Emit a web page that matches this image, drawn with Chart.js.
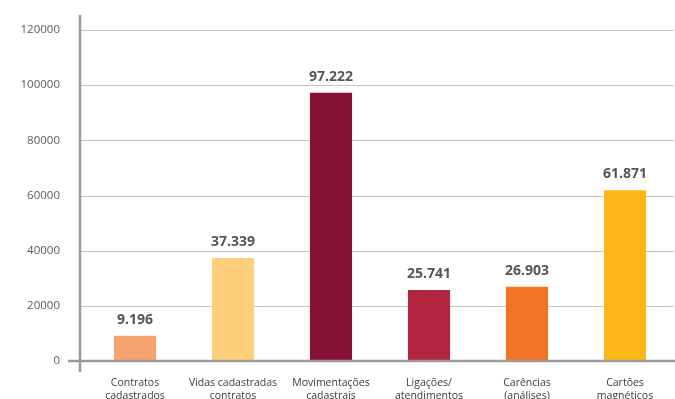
<!DOCTYPE html>
<html>
<head>
<meta charset="utf-8">
<script src="https://cdn.jsdelivr.net/npm/chart.js@4/dist/chart.umd.min.js"></script>
<style>
html,body{margin:0;padding:0;background:#fff;}
#wrap{width:675px;height:399px;}
</style>
</head>
<body>
<div id="wrap"><canvas id="c" width="675" height="399"></canvas></div>
<script>
const categories = [
  ["Contratos","cadastrados"],
  ["Vidas cadastradas","contratos"],
  ["Movimentações","cadastrais"],
  ["Ligações/","atendimentos"],
  ["Carências","(análises)"],
  ["Cartões","magnéticos"]
];
const values = [9196, 37339, 97222, 25741, 26903, 61871];
const barColors = ["#F6A36F","#FED07B","#861134","#B4253F","#F27323","#FBB718"];
const yTicks = [0, 20000, 40000, 60000, 80000, 100000, 120000];

function fmt(v){ return String(v).replace(/\B(?=(\d{3})+(?!\d))/g, "."); }

const axesPlugin = {
  id: 'axesPlugin',
  beforeDatasetsDraw(chart){
    const ctx = chart.ctx, y = chart.scales.y;
    ctx.save();
    ctx.strokeStyle = '#c4c4c4';
    ctx.lineWidth = 1;
    yTicks.forEach(t => {
      if (t === 0) return;
      const py = Math.round(y.getPixelForValue(t)) + 0.5;
      ctx.beginPath(); ctx.moveTo(80, py); ctx.lineTo(674, py); ctx.stroke();
    });
    ctx.restore();
  },
  afterDatasetsDraw(chart){
    const ctx = chart.ctx, y = chart.scales.y;
    ctx.save();
    ctx.strokeStyle = '#9a9a9a';
    ctx.lineWidth = 2.5;
    const y0 = y.getPixelForValue(0);
    ctx.beginPath(); ctx.moveTo(68, y0); ctx.lineTo(675, y0); ctx.stroke();
    ctx.beginPath(); ctx.moveTo(80, 15); ctx.lineTo(80, y0 + 11); ctx.stroke();
    const meta = chart.getDatasetMeta(0);
    ctx.fillStyle = '#555555';
    ctx.font = 'bold 14px "Open Sans", sans-serif';
    ctx.textAlign = 'center';
    ctx.textBaseline = 'alphabetic';
    meta.data.forEach((bar, i) => {
      ctx.fillText(fmt(values[i]), bar.x, bar.y - 12);
    });
    ctx.restore();
  }
};

new Chart(document.getElementById('c'), {
  type: 'bar',
  data: {
    labels: categories,
    datasets: [{
      data: values,
      backgroundColor: barColors,
      borderWidth: 0,
      barPercentage: 0.43,
      categoryPercentage: 1
    }]
  },
  options: {
    responsive: false,
    animation: false,
    devicePixelRatio: 1,
    layout: { padding: { top: 30, right: 1, left: 0, bottom: 0 } },
    plugins: { legend: { display: false }, tooltip: { enabled: false } },
    scales: {
      x: {
        grid: { display: false, drawTicks: false },
        border: { display: false },
        ticks: {
          color: '#3a3a3a',
          font: { family: '"Open Sans", sans-serif', size: 10.5, lineHeight: 1.25 },
          padding: 15,
          maxRotation: 0, autoSkip: false
        },
        afterFit(scale){ scale.height = 38; }
      },
      y: {
        min: 0, max: 120000,
        afterBuildTicks(scale){ scale.ticks = yTicks.map(v => ({ value: v })); },
        grid: { display: false, drawTicks: false },
        border: { display: false },
        ticks: {
          color: '#5a5a5a',
          font: { family: '"Open Sans", sans-serif', size: 11.5 },
          padding: 26,
          callback: v => String(v)
        },
        afterFit(scale){ scale.width = 86; scale.paddingTop = 0; scale.paddingBottom = 0; }
      }
    }
  },
  plugins: [axesPlugin]
});
</script>
</body>
</html>
